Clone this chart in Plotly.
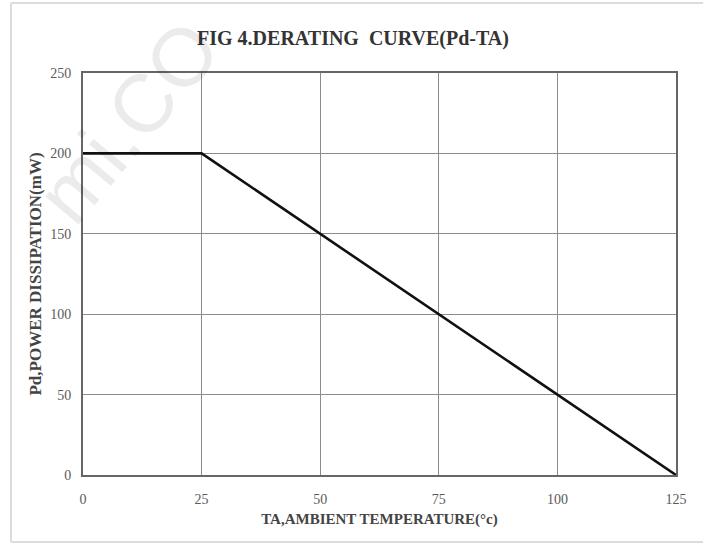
import plotly.graph_objects as go

# Data
ta_temp = [0, 25, 125]          # ambient temperature (°C)
pd_mw = [200, 200, 0]           # power dissipation (mW)
x_ticks = [0, 25, 50, 75, 100, 125]
y_ticks = [0, 50, 100, 150, 200, 250]

title_text = "FIG 4.DERATING  CURVE(Pd-TA)"
x_title = "TA,AMBIENT TEMPERATURE(°c)"
y_title = "Pd,POWER DISSIPATION(mW)"

serif = "Liberation Serif, Times New Roman, serif"

W, H = 706, 552
L, R, T, B = 83, 30, 73, 77
PW, PH = W - L - R, H - T - B


def px(xp):
    return (xp - L) / PW


def py(yp):
    return (H - B - yp) / PH


fig = go.Figure()
fig.add_trace(go.Scatter(
    x=ta_temp, y=pd_mw, mode="lines",
    line=dict(color="#111111", width=2.6),
    showlegend=False, hoverinfo="skip",
))

fig.update_layout(
    width=W, height=H,
    margin=dict(l=L, r=R, t=T, b=B),
    paper_bgcolor="white", plot_bgcolor="white",
    title=dict(text=f"<b>{title_text}</b>", x=0.5, xanchor="center",
               y=1 - 38 / H, yanchor="middle",
               font=dict(family=serif, size=20, color="#333333")),
    xaxis=dict(
        range=[0, 125], tickvals=x_ticks, ticktext=[str(v) for v in x_ticks],
        showgrid=True, gridcolor="#8c8c8c", gridwidth=1,
        showline=True, linecolor="#666666", linewidth=2, mirror=True,
        zeroline=False, ticks="", ticklen=0, ticklabelstandoff=10,
        tickfont=dict(family=serif, size=14, color="#5a5a5a"),
        title=dict(text=f"<b>{x_title}</b>", standoff=8,
                   font=dict(family=serif, size=15, color="#444444")),
    ),
    yaxis=dict(
        range=[0, 250], tickvals=y_ticks, ticktext=[str(v) for v in y_ticks],
        showgrid=True, gridcolor="#8c8c8c", gridwidth=1,
        showline=True, linecolor="#666666", linewidth=2, mirror=True,
        zeroline=False, ticks="", ticklen=0, ticklabelstandoff=7,
        tickfont=dict(family=serif, size=14, color="#5a5a5a"),
        title=dict(text=f"<b>{y_title}</b>", standoff=4,
                   font=dict(family=serif, size=17, color="#444444")),
    ),
)

# light outer frame of the picture
frame = dict(color="#dcdcdc", width=2)
fig.add_shape(type="line", xref="paper", yref="paper",
              x0=px(11), x1=px(703), y0=py(3), y1=py(3), line=frame)
fig.add_shape(type="line", xref="paper", yref="paper",
              x0=px(11), x1=px(703), y0=py(542), y1=py(542), line=frame)
fig.add_shape(type="line", xref="paper", yref="paper",
              x0=px(11), x1=px(11), y0=py(3), y1=py(542), line=frame)

# faint watermark (translucent so the texts beneath stay readable)
fig.add_annotation(text="mi.CO", xref="paper", yref="paper",
                   x=px(128), y=py(122), xanchor="center", yanchor="middle",
                   showarrow=False, textangle=-50,
                   font=dict(family="Liberation Sans, Arial, sans-serif", size=82,
                             color="rgba(0,0,0,0.08)"))

fig.write_html("out.html", config={"displayModeBar": False},
               post_script="document.body.style.margin='0';")
